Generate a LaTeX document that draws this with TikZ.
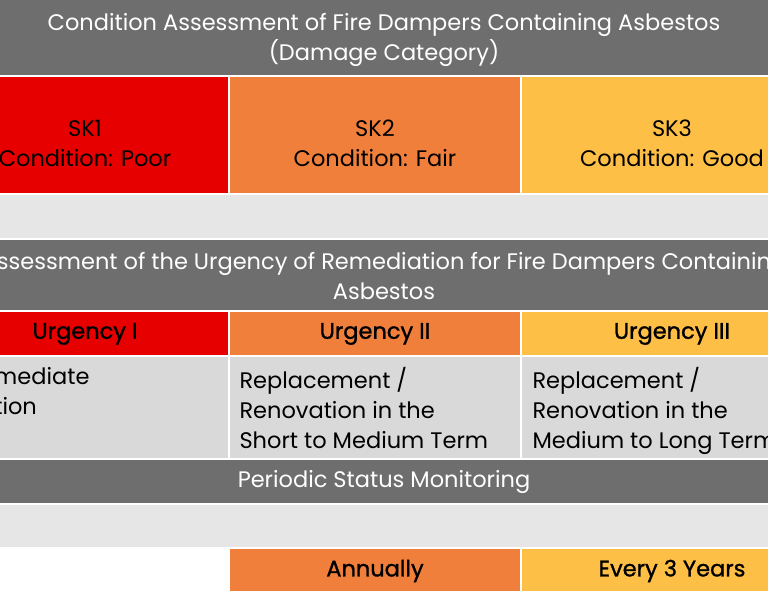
\documentclass[tikz,border=0pt]{standalone}
\usepackage{fontspec}
\setmainfont{Poppins}
\newfontfamily\semib{Poppins}[FakeBold=1.2]
\definecolor{dg}{HTML}{6E6E6E}
\definecolor{rd}{HTML}{E60000}
\definecolor{og}{HTML}{F07F3C}
\definecolor{yl}{HTML}{FDBF45}
\definecolor{lg}{HTML}{E6E6E6}
\definecolor{mg}{HTML}{D9D9D9}
\begin{document}
\begin{tikzpicture}[x=1pt,y=-1pt,
  cell/.style={draw=white,line width=2pt},
  wt/.style={text=white,font=\fontsize{22.5}{30}\selectfont,align=center},
  bt/.style={text=black,font=\fontsize{22.5}{30}\selectfont,align=center},
  ut/.style={text=black,font=\semib\fontsize{22.5}{30}\selectfont,align=center},
  lt/.style={text=black,font=\fontsize{22.5}{30}\selectfont,align=left,anchor=north west}]
\useasboundingbox (0,0) rectangle (768,600);
\clip (0,0) rectangle (768,600);
\fill[white] (0,0) rectangle (768,600);
% title 1
\filldraw[cell,fill=dg] (-70,-5) rectangle (840,76);
\node[wt] (t1) at (384,40) {Condition Assessment of Fire Dampers Containing Asbestos\\(Damage Category)};
% SK row
\filldraw[cell,fill=rd] (-70,76) rectangle (229,194);
\filldraw[cell,fill=og] (229,76) rectangle (521,194);
\filldraw[cell,fill=yl] (521,76) rectangle (840,194);
\node[bt] (sk1) at (85,143) {SK1\\Condition: Poor};
\node[bt] (sk2) at (375,143) {SK2\\Condition: Fair};
\node[bt] (sk3) at (672,143) {SK3\\Condition: Good};
\filldraw[cell,fill=lg] (-70,194) rectangle (840,239);
% title 2
\filldraw[cell,fill=dg] (-70,239) rectangle (840,311);
\node[wt] (t2) at (384,276) {Assessment of the Urgency of Remediation for Fire Dampers Containing\\Asbestos};
% urgency row
\filldraw[cell,fill=rd] (-70,311) rectangle (229,356);
\filldraw[cell,fill=og] (229,311) rectangle (521,356);
\filldraw[cell,fill=yl] (521,311) rectangle (840,356);
\node[ut] (u1) at (85,334) {Urgency I};
\node[ut] (u2) at (375,334) {Urgency II};
\node[ut] (u3) at (672,334) {Urgency III};
% measure cells
\filldraw[cell,fill=mg] (-70,356) rectangle (229,459);
\filldraw[cell,fill=mg] (229,356) rectangle (521,459);
\filldraw[cell,fill=mg] (521,356) rectangle (840,459);
\node[lt] (m1) at (-38,364) {Immediate\\Action};
\node[lt] (m2) at (236,364) {Replacement /\\Renovation in the\\Short to Medium Term};
\node[lt] (m3) at (529,364) {Replacement /\\Renovation in the\\Medium to Long Term};
% monitoring
\filldraw[cell,fill=dg] (-70,459) rectangle (840,504);
\node[wt] (pm) at (384,482) {Periodic Status Monitoring};
\filldraw[cell,fill=lg] (-70,504) rectangle (840,548);
\filldraw[cell,fill=og] (229,548) rectangle (521,592);
\filldraw[cell,fill=yl] (521,548) rectangle (840,592);
\node[ut] (a2) at (375,571) {Annually};
\node[ut] (a3) at (672,571) {Every 3 Years};
\end{tikzpicture}
\end{document}
